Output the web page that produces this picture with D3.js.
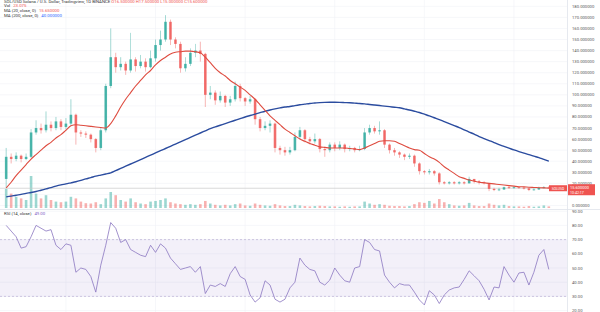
<!DOCTYPE html>
<html>
<head>
<meta charset="utf-8">
<script src="https://cdn.jsdelivr.net/npm/d3@7"></script>
<style>
body{margin:0;background:#fff;}
text{font-family:Roboto,"Liberation Sans",sans-serif;}
</style>
</head>
<body>
<div id="chart"></div>
<script>
// daily candles (open = previous close)
var firstOpen = 24;
var closes = [44,42,45,42,44,66,70,68,73,70, 76,71,74,82,66,65,64,60,52,68,
  108,134,125,128,122,132,126,130,125,133, 145,150,166,150,146,124,128,138,140,137,
  100,102,95,99,93,96,108,97,94,96, 78,70,72,74,52,50,48,50,62,68,
  60,58,60,51,50,55,52,55,51,52, 50,51,66,70,67,68,55,50,48,46,
  44,45,38,31,30,31,29,21,20,21, 20,21,20,24,22,21,20,15,14,14.5,
  16.5,16,16.5,16,15.5,14,14.5,16,16.5,15.6];
var highs = [52,47,48,46,47,69,77,74,85,76, 80,78,79,96,83,68,67,65,61,70,
  110,160,138,134,130,156,134,136,133,140, 150,158,172,168,152,148,134,142,146,148,
  138,108,104,103,100,99,112,110,98,99, 97,80,76,77,75,54,53,53,66,71,
  69,62,65,61,53,57,57,58,56,54, 53,54,70,73,72,76,69,56,52,49,
  47,47,46,39,32,33,32,30,22,22, 22,22,22,26,24,23,22,20,16,16,
  17,17.5,17.5,17,17,16,15.5,17,17.5,17.5];
var lows = [16,38,40,39,41,43,64,65,66,67, 68,68,69,72,55,62,61,57,48,50,
  66,106,120,122,118,120,121,124,121,124, 130,140,148,145,142,120,121,126,134,130,
  89,96,91,93,89,90,94,94,90,92, 73,67,68,66,48,46,45,46,49,60,
  57,55,56,48,44,48,49,50,48,49, 48,49,50,64,65,64,52,47,45,43,
  41,42,35,28,28,28,27,19,19,19, 19,19,19,20,20,19,19,13,13,13,
  14,15,15,15,14.5,13,13.5,14,15.5,15];
var volumes = [60,45,35,30,25,100,45,30,40,25, 20,18,20,35,30,20,15,14,18,12,
  30,50,40,25,20,30,18,14,12,20, 22,25,30,18,14,12,10,12,10,12,
  22,14,10,8,10,8,12,14,8,7, 14,10,8,7,12,8,6,6,10,8,
  6,5,6,7,6,5,5,4,5,4, 5,5,20,14,10,12,10,7,6,6,
  5,6,12,18,16,22,14,28,18,12, 8,7,8,16,8,6,6,14,10,8,
  10,6,5,5,4,6,4,5,8,5];
var ma20 = [16,21,27,32,37,42,46,50,54,57, 61,64,68,72,73,72.5,72,71.5,71,70.5,
  70,74,81,89,96,102,108,113,118,122, 127,131,134,137,138.5,139,139.5,139.5,139,138,
  134,129,124,120,117,113,110,107,104,100, 96,91,86,81,77,73,69,66,63,60,
  58,56,54.5,53,52.5,52,52,52,52,51.5, 51,50.5,52,54,56,58,58.5,58.5,58,56,
  54,52,50.5,50,47,44,42,39,35,32, 29,26,24.5,23,22,21,20.5,20,19.5,19,
  18.5,18,17.5,17,16.8,16.5,16.3,16.1,15.9,15.65];
var ma200 = [7.8,8.5,9.3,10,11,11.7,12.6,13.8,15,16.2, 17.5,18.6,19.5,20.5,21.5,22.7,24,25.2,26.5,27.5,
  28.5,29.5,31.5,33.5,35.5,37.5,39.5,41.5,43.5,45.5, 47.5,49.5,51.5,53.5,55.5,57.5,59.5,61.5,63.5,65.5,
  67.5,69.5,71,72.5,74,75.5,77,78.5,80,81.3, 82.6,83.9,85.2,86.3,87.3,88.2,89,89.5,90.3,91,
  91.6,92.2,92.6,93,93.2,93.3,93.3,93.2,93,92.8, 92.5,92.2,91.8,91.3,90.8,90.3,89.8,89.3,88.8,88.3,
  87.3,86.3,85.2,84,82.5,81,79.3,77.6,75.8,74, 72.2,70.4,68.4,66.4,64.4,62.3,60.5,58.7,56.9,55,
  53.4,51.8,50.2,48.7,47.3,46,44.6,43.3,41.6,40];
var rsi = [80,76,72,64,65,72,80,78,76,77, 66,63,67,66,47,50,49,44,33,52,
  66,82,78,68,70,63,61,59,58,66, 61,67,64,57,53,49,50,51,47,51,
  32,38,37,39,37,46,51,44,42,31, 26,29,41,38,28,26,28,36,40,57,
  52,49,48,40,38,41.5,50,45,41,40, 50,51,70,68,63,62,45,40,36,39,
  38,38,33,27.5,24,34,31,25,31,34.5, 36,36.6,42,48,44.5,41,35,27.5,36.6,36,
  51,45,40,46.5,47,38,47,59,63,49];

// tick labels
var priceTicks = d3.range(0, 190, 10);
var rsiTicks = [20,30,40,50,60,70,80,90];
var monthIdx = [12,30,48,66,84,102];

var width = 600, height = 312;
var axisX = 567;
var up = "#26a69a", down = "#ef5350";

var svg = d3.select("#chart").append("svg")
    .attr("width", width)
    .attr("height", height);

svg.append("rect").attr("width", width).attr("height", height).attr("fill", "#fff");

var n = closes.length;
var opens = closes.map(function(c, i){ return i === 0 ? firstOpen : closes[i-1]; });

// scales
var x = d3.scaleBand().domain(d3.range(n)).range([2.5, 552.5]).padding(0.48);
var cx = function(i){ return x(i) + x.bandwidth()/2; };
var y = d3.scaleLinear().domain([0, 180]).range([205.5, 6.3]);
var yVol = d3.scaleLinear().domain([0, 100]).range([208, 176]);
var yRsi = d3.scaleLinear().domain([20, 80]).range([310.6, 225.4]);

// grid
var grid = svg.append("g").attr("stroke", "#f0f2f7").attr("stroke-width", 0.6);
priceTicks.forEach(function(t){
    grid.append("line").attr("x1", 0).attr("x2", axisX).attr("y1", y(t)).attr("y2", y(t));
});
rsiTicks.forEach(function(t){
    grid.append("line").attr("x1", 0).attr("x2", axisX).attr("y1", yRsi(t)).attr("y2", yRsi(t));
});
monthIdx.forEach(function(i){
    grid.append("line").attr("x1", cx(i)).attr("x2", cx(i)).attr("y1", 0).attr("y2", height);
});

// volume
svg.append("g").selectAll("rect")
    .data(volumes)
    .enter().append("rect")
    .attr("x", function(d, i){ return x(i); })
    .attr("width", x.bandwidth())
    .attr("y", function(d){ return yVol(d); })
    .attr("height", function(d){ return yVol(0) - yVol(d); })
    .attr("fill", function(d, i){ return closes[i] >= opens[i] ? up : down; })
    .attr("opacity", 0.45);

// last price line
svg.append("line")
    .attr("x1", 0).attr("x2", axisX)
    .attr("y1", y(closes[n-1])).attr("y2", y(closes[n-1]))
    .attr("stroke", "#c9c9c9").attr("stroke-width", 0.7);

// candles
var candles = svg.append("g").selectAll("g")
    .data(closes)
    .enter().append("g")
    .attr("fill", function(d, i){ return d >= opens[i] ? up : down; })
    .attr("stroke", function(d, i){ return d >= opens[i] ? up : down; });

candles.append("line")
    .attr("x1", function(d, i){ return cx(i); })
    .attr("x2", function(d, i){ return cx(i); })
    .attr("y1", function(d, i){ return y(highs[i]); })
    .attr("y2", function(d, i){ return y(lows[i]); })
    .attr("stroke-width", 0.7)
    .attr("opacity", 0.6);

candles.append("rect")
    .attr("x", function(d, i){ return x(i); })
    .attr("width", x.bandwidth())
    .attr("y", function(d, i){ return y(Math.max(d, opens[i])); })
    .attr("height", function(d, i){ return Math.max(0.8, Math.abs(y(d) - y(opens[i]))); })
    .attr("stroke", "none")
    .attr("opacity", 0.8);

// moving averages
var maLine = function(vals){
    return d3.line()
        .x(function(d, i){ return cx(i); })
        .y(function(d){ return y(d); })
        .curve(d3.curveMonotoneX)(vals);
};
svg.append("path").attr("d", maLine(ma200))
    .attr("fill", "none").attr("stroke", "#2b4c9f").attr("stroke-width", 1.4);
svg.append("path").attr("d", maLine(ma20))
    .attr("fill", "none").attr("stroke", "#de4b3f").attr("stroke-width", 1.1);

// pane separator + axis border
svg.append("line").attr("x1", 0).attr("x2", width).attr("y1", 209.5).attr("y2", 209.5)
    .attr("stroke", "#e0e3eb").attr("stroke-width", 0.8);
svg.append("line").attr("x1", axisX + 0.5).attr("x2", axisX + 0.5).attr("y1", 0).attr("y2", height)
    .attr("stroke", "#e0e3eb").attr("stroke-width", 0.8);

// RSI pane
svg.append("rect")
    .attr("x", 0).attr("width", axisX)
    .attr("y", yRsi(70)).attr("height", yRsi(30) - yRsi(70))
    .attr("fill", "#7e57c2").attr("opacity", 0.09);
[70, 30].forEach(function(t){
    svg.append("line").attr("x1", 0).attr("x2", axisX).attr("y1", yRsi(t)).attr("y2", yRsi(t))
        .attr("stroke", "#b3a6cf").attr("stroke-width", 0.6).attr("stroke-dasharray", "2,2");
});
svg.append("path")
    .attr("d", d3.line().x(function(d, i){ return cx(i); }).y(function(d){ return yRsi(d); })(rsi))
    .attr("fill", "none").attr("stroke", "#8a76c0").attr("stroke-width", 0.8);

// price axis labels
var axisG = svg.append("g").attr("font-size", 4.2).attr("fill", "#555");
priceTicks.forEach(function(t){
    if (t === 10) return; // hidden behind last price label
    axisG.append("text").attr("x", 572).attr("y", y(t) + 1.5).text(t.toFixed(6));
});
rsiTicks.forEach(function(t){
    axisG.append("text").attr("x", 572).attr("y", yRsi(t) + 1.5).text(t.toFixed(2));
});

// last price labels
var lastY = y(closes[n-1]);
svg.append("rect").attr("x", 549).attr("y", lastY - 3).attr("width", 18).attr("height", 6).attr("fill", down);
svg.append("text").attr("x", 558).attr("y", lastY + 1.3).attr("text-anchor", "middle")
    .attr("font-size", 3.4).attr("fill", "#fff").text("SOLUSD");
svg.append("rect").attr("x", 568).attr("y", lastY - 4).attr("width", 27).attr("height", 11).attr("fill", down);
svg.append("text").attr("x", 570).attr("y", lastY + 0.8).attr("font-size", 4).attr("fill", "#fff")
    .text(closes[n-1].toFixed(6));
svg.append("text").attr("x", 570).attr("y", lastY + 5.5).attr("font-size", 3.6).attr("fill", "#fff")
    .text("10:42:17");

// legend
var leg = svg.append("g").attr("font-size", 4.3).attr("fill", "#333");
var row1 = leg.append("text").attr("x", 4).attr("y", 2.6);
row1.append("tspan").text("SOL/USD Solana / U.S. Dollar, Tradingview, 1D BINANCE ");
row1.append("tspan").attr("fill", down)
    .text("O" + opens[n-1].toFixed(6) + " H" + highs[n-1].toFixed(6) + " L" + lows[n-1].toFixed(6) + " C" + closes[n-1].toFixed(6));
var row2 = leg.append("text").attr("x", 4).attr("y", 7.4);
row2.append("tspan").text("Vol ");
row2.append("tspan").attr("dx", 2).attr("fill", down).text("23.075");
var row3 = leg.append("text").attr("x", 4).attr("y", 12.4);
row3.append("tspan").text("MA (20, close, 0)");
row3.append("tspan").attr("dx", 3).attr("fill", down).text(ma20[n-1].toFixed(6));
var row4 = leg.append("text").attr("x", 4).attr("y", 17);
row4.append("tspan").text("MA (200, close, 0)");
row4.append("tspan").attr("dx", 3).attr("fill", "#2962ff").text(ma200[n-1].toFixed(6));
var row5 = leg.append("text").attr("x", 4).attr("y", 214.5);
row5.append("tspan").text("RSI (14, close)");
row5.append("tspan").attr("dx", 3).attr("fill", "#7e57c2").text(rsi[n-1].toFixed(2));
</script>
</body>
</html>
